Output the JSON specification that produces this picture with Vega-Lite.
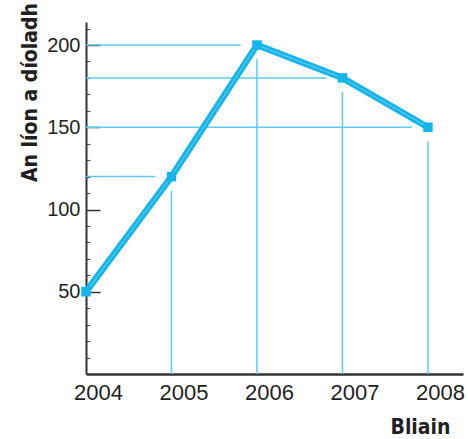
{
  "$schema": "https://vega.github.io/schema/vega-lite/v6.json",
  "width": 377,
  "height": 352,
  "autosize": {"type": "none"},
  "padding": {"left": 86, "top": 22, "right": 5, "bottom": 65},
  "background": "white",
  "config": {"view": {"stroke": null}, "font": "Liberation Sans"},
  "data": {"values": [
    {"year": 2004, "sold": 50},
    {"year": 2005, "sold": 120},
    {"year": 2006, "sold": 200},
    {"year": 2007, "sold": 180},
    {"year": 2008, "sold": 150}
  ]},
  "resolve": {"axis": {"y": "independent"}, "scale": {"y": "shared"}},
  "layer": [
    {
      "transform": [
        {"filter": "datum.year > 2004"},
        {"calculate": "datum.year - 0.19", "as": "hx"}
      ],
      "mark": {"type": "rule", "color": "#5fcbf0", "strokeWidth": 1.5},
      "encoding": {
        "x": {"field": "hx", "type": "quantitative", "scale": {"domain": [2004, 2008.41], "nice": false, "zero": false}},
        "x2": {"datum": 2004},
        "y": {
          "field": "sold", "type": "quantitative",
          "scale": {"domain": [0, 214], "nice": false},
          "axis": {
            "orient": "left",
            "values": [10, 20, 30, 40, 60, 70, 80, 90, 110, 120, 130, 140, 160, 170, 180, 190, 210],
            "labels": false,
            "domain": false,
            "grid": false,
            "tickSize": -4,
            "tickWidth": 1.2,
            "tickColor": "#555555",
            "title": null
          }
        }
      }
    },
    {
      "transform": [
        {"filter": "datum.year > 2004"},
        {"calculate": "datum.sold - 8.5", "as": "vy"}
      ],
      "mark": {"type": "rule", "color": "#5fcbf0", "strokeWidth": 1.5},
      "encoding": {
        "x": {"field": "year", "type": "quantitative"},
        "y": {"field": "vy", "type": "quantitative", "axis": null},
        "y2": {"datum": 0}
      }
    },
    {
      "mark": {"type": "line", "color": "#14b5ea", "strokeWidth": 6.5, "strokeJoin": "miter"},
      "encoding": {
        "x": {
          "field": "year", "type": "quantitative",
          "axis": {
            "values": [2004, 2005, 2006, 2007, 2008],
            "format": "d",
            "ticks": false,
            "grid": false,
            "labelFlush": false,
            "labelOffset": 12,
            "labelPadding": 8,
            "labelFontSize": 22,
            "labelColor": "#231f20",
            "labelFont": "Liberation Sans",
            "domainColor": "#333333",
            "domainWidth": 2.5,
            "title": "Bliain",
            "titleFont": "DejaVu Sans Condensed, Liberation Sans, sans-serif",
            "titleFontWeight": "bold",
            "titleFontSize": 21,
            "titleColor": "#231f20",
            "titleX": 334,
            "titleY": 53,
            "titleAlign": "center",
            "titleBaseline": "middle"
          }
        },
        "y": {
          "field": "sold", "type": "quantitative",
          "axis": {
            "orient": "left",
            "values": [50, 100, 150, 200],
            "format": "d",
            "labelOverlap": false,
            "grid": false,
            "labelFlush": false,
            "tickColor": "#333333",
            "tickWidth": 1.5,
            "tickSize": -14,
            "labelPadding": 20,
            "labelFontSize": 20,
            "labelColor": "#231f20",
            "labelFont": "Liberation Sans",
            "domainColor": "#333333",
            "domainWidth": 2,
            "title": "An líon a díoladh",
            "titleFont": "DejaVu Sans Condensed, Liberation Sans, sans-serif",
            "titleFontWeight": "bold",
            "titleFontSize": 21,
            "titleColor": "#231f20",
            "titleX": -56,
            "titleY": 70,
            "titleAngle": -90,
            "titleAlign": "center",
            "titleBaseline": "middle"
          }
        }
      }
    },
    {
      "mark": {"type": "line", "color": "#7fd6f4", "strokeWidth": 1, "opacity": 0.8},
      "encoding": {
        "x": {"field": "year", "type": "quantitative"},
        "y": {"field": "sold", "type": "quantitative", "axis": null}
      }
    },
    {
      "mark": {"type": "point", "shape": "square", "filled": true, "color": "#14b5ea", "size": 90, "opacity": 1},
      "encoding": {
        "x": {"field": "year", "type": "quantitative"},
        "y": {"field": "sold", "type": "quantitative", "axis": null}
      }
    }
  ]
}
